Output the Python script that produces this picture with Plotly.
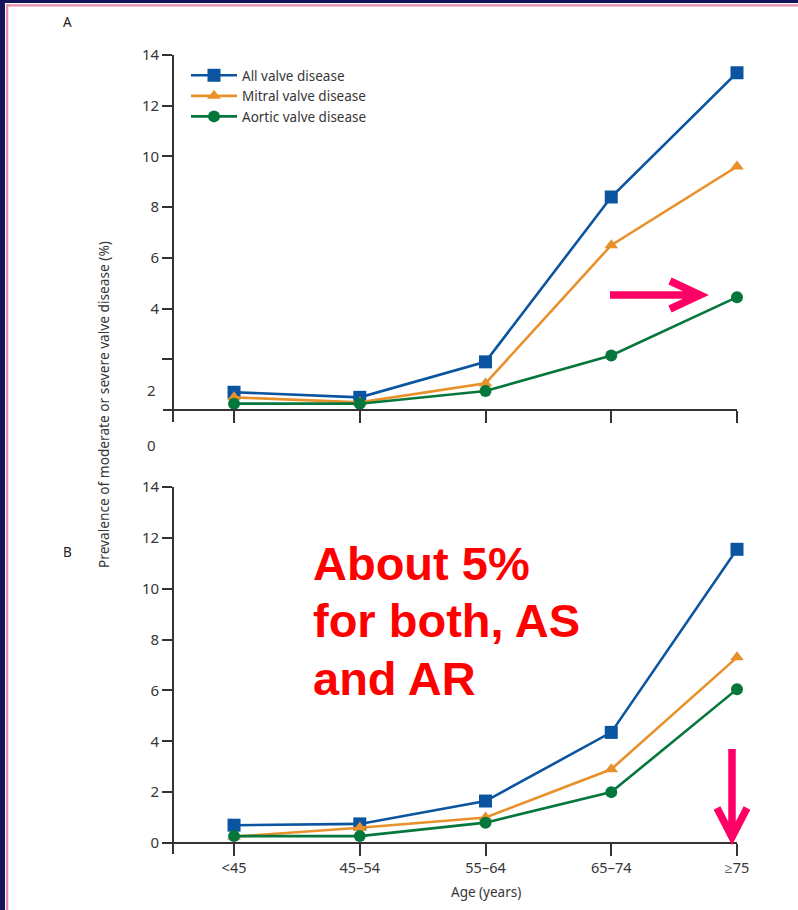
import plotly.graph_objects as go

# Age groups and prevalence (%) of moderate or severe valve disease
ages = ["<45", "45–54", "55–64", "65–74", "≥75"]

a_all = [0.7, 0.5, 1.9, 8.4, 13.3]
a_mitral = [0.5, 0.3, 1.05, 6.5, 9.6]
a_aortic = [0.25, 0.25, 0.75, 2.15, 4.45]

b_all = [0.7, 0.75, 1.65, 4.35, 11.55]
b_mitral = [0.25, 0.6, 1.0, 2.9, 7.3]
b_aortic = [0.27, 0.27, 0.8, 2.0, 6.05]

series_names = ["All valve disease", "Mitral valve disease", "Aortic valve disease"]
series_colors = ["#0b55a0", "#e8912b", "#06773c"]
series_symbols = ["square", "triangle-up", "circle"]
series_sizes = [13, 12, 12]

a_ticks = [2, 4, 6, 8, 10, 12, 14]
a_ticktext = ["", "4", "6", "8", "10", "12", "14"]
# stray labels beside the upper axis: (text, pixel row)
a_loose_labels = [("2", 390), ("0", 445)]
b_ticks = [0, 2, 4, 6, 8, 10, 12, 14]

callout_lines = ["About 5%", "for both, AS", "and AR"]

W, H = 798, 910
FONT = "Noto Sans"
TXT = "#363636"
AX = "#333333"


def px(x):
    return x / W


def py(y):
    return 1 - y / H


fig = go.Figure()

panels = [
    ("x", "y", [a_all, a_mitral, a_aortic], True),
    ("x2", "y2", [b_all, b_mitral, b_aortic], False),
]
for xa, ya, values, show in panels:
    for name, vals, col, sym, sz in zip(series_names, values, series_colors,
                                        series_symbols, series_sizes):
        fig.add_trace(go.Scatter(
            x=ages, y=vals, xaxis=xa, yaxis=ya, name=name,
            mode="lines+markers", showlegend=show, cliponaxis=False,
            line=dict(color=col, width=2.6),
            marker=dict(symbol=sym, size=sz, color=col),
        ))

x_dom = [px(163), px(737)]
x_rng = [-0.565, 4.0]
common_x = dict(
    type="category", range=x_rng, domain=x_dom, anchor="free",
    automargin=False,
    showline=True, linecolor=AX, linewidth=1.8, showgrid=False, zeroline=False,
    ticks="outside", ticklen=12, tickwidth=1.8, tickcolor=AX,
    tickfont=dict(family=FONT, size=14.5, color=TXT),
)
common_y = dict(
    anchor="free", position=px(173), automargin=False,
    showline=True, linecolor=AX, linewidth=1.8, showgrid=False, zeroline=False,
    ticks="outside", ticklen=10, tickwidth=1.8, tickcolor=AX,
    tickfont=dict(family=FONT, size=15, color=TXT),
)

fig.update_layout(
    width=W, height=H,
    margin=dict(l=0, r=0, t=0, b=0, pad=0, autoexpand=False),
    paper_bgcolor="white", plot_bgcolor="white",
    xaxis=dict(common_x, position=py(410), showticklabels=False),
    yaxis=dict(common_y, domain=[py(422), py(55)], range=[-0.473, 14],
               tickvals=a_ticks, ticktext=a_ticktext),
    xaxis2=dict(common_x, position=py(843), showticklabels=True),
    yaxis2=dict(common_y, domain=[py(854), py(487)], range=[-0.433, 14],
                tickvals=b_ticks),
    legend=dict(
        x=px(186), y=py(60), xanchor="left", yanchor="top",
        bgcolor="rgba(0,0,0,0)", itemwidth=46, tracegroupgap=0,
        font=dict(family=FONT, size=13.5, color=TXT),
    ),
    showlegend=True,
)


def label(text, x, y, size, color=TXT, **kw):
    base = dict(text=text, x=px(x), y=py(y), xref="paper", yref="paper",
                xanchor="center", yanchor="middle", showarrow=False,
                font=dict(family=FONT, size=size, color=color))
    base.update(kw)
    return base


ann = []
# panel letters
ann.append(label("A", 67, 22, 13.5, "#222"))
ann.append(label("B", 67, 552, 13.5, "#222"))
# loose value labels beside the upper axis
for lab, row in a_loose_labels:
    ann.append(label(lab, 158, row, 15, xanchor="right"))
# shared y title
ann.append(label("Prevalence of moderate or severe valve disease (%)",
                 103, 405, 13.7, textangle=-90))
# x title
ann.append(label("Age (years)", 486, 892, 13.5))
# red callout
for i, line in enumerate(callout_lines):
    ann.append(dict(text="<b>" + line + "</b>", x=px(311),
                    y=py(563 + 57.5 * i), xref="paper",
                    yref="paper", xanchor="left", yanchor="middle",
                    showarrow=False,
                    font=dict(family="Liberation Sans", size=47, color="#ff0000"),
                    ))
fig.update_layout(annotations=ann)


def ppath(points_groups):
    d = ""
    for grp in points_groups:
        for j, (x, y) in enumerate(grp):
            d += ("M" if j == 0 else "L") + f"{px(x):.5f},{py(y):.5f} "
    return d


NAVY = "#17145b"
PINK = "#e28eac"
ARROW = "#ff0066"
shapes = [
    dict(type="rect", xref="paper", yref="paper", x0=0, x1=1, y0=py(3), y1=1,
         fillcolor=NAVY, line=dict(width=0), layer="above"),
    dict(type="rect", xref="paper", yref="paper", x0=0, x1=px(5), y0=0, y1=1,
         fillcolor=NAVY, line=dict(width=0), layer="above"),
    dict(type="rect", xref="paper", yref="paper", x0=px(6), x1=1, y0=py(6.5),
         y1=py(4.3), fillcolor=PINK, line=dict(width=0), layer="above"),
    dict(type="rect", xref="paper", yref="paper", x0=px(6), x1=px(8.3), y0=0,
         y1=py(4.3), fillcolor=PINK, line=dict(width=0), layer="above"),
    # pointer arrows
    dict(type="path", xref="paper", yref="paper",
         path=ppath([[(610, 295), (697, 295)],
                     [(670, 281), (700, 295), (670, 309)]]),
         line=dict(color=ARROW, width=7.5), layer="above"),
    dict(type="path", xref="paper", yref="paper",
         path=ppath([[(732, 749), (732, 833)],
                     [(717, 808), (732, 837), (747, 808)]]),
         line=dict(color=ARROW, width=7.5), layer="above"),
]
fig.update_layout(shapes=shapes)

fig.write_html("out.html")
